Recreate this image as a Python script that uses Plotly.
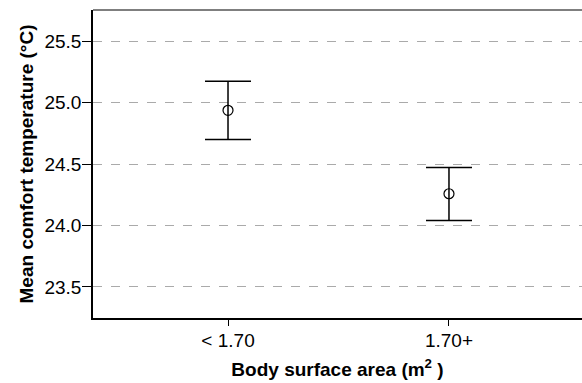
import plotly.graph_objects as go

categories = ["< 1.70", "1.70+"]
means = [24.937, 24.258]
upper = [25.174, 24.472]
lower = [24.700, 24.040]
y_ticks = [23.5, 24.0, 24.5, 25.0, 25.5]

err_plus = [u - m for u, m in zip(upper, means)]
err_minus = [m - l for m, l in zip(means, lower)]

fig = go.Figure()
fig.add_trace(go.Scatter(
    x=categories, y=means, mode="markers",
    marker=dict(symbol="circle-open", size=10, color="black", line=dict(width=1.2, color="black")),
    error_y=dict(type="data", symmetric=False, array=err_plus, arrayminus=err_minus,
                 color="black", thickness=1.5, width=23),
    showlegend=False,
))

font = "Liberation Sans, Arial, sans-serif"
fig.update_layout(
    width=582, height=383,
    margin=dict(l=93, r=0, t=10, b=65),
    paper_bgcolor="white", plot_bgcolor="white",
    font=dict(family=font, size=19, color="black"),
    xaxis=dict(
        type="category", range=[-0.611, 1.602], automargin=False,
        showline=True, linecolor="black", linewidth=1.5,
        ticks="outside", ticklen=6, tickcolor="black",
        ticklabelstandoff=-2,
        showgrid=False, zeroline=False,
        tickfont=dict(size=19),
        title=dict(text="<b>Body surface area (m<sup>2</sup> )</b>", font=dict(size=19), standoff=13),
    ),
    yaxis=dict(
        range=[23.247, 25.753], tickvals=y_ticks, ticktext=[f"{v:.1f}" for v in y_ticks],
        automargin=False,
        showline=True, linecolor="black", linewidth=1.5,
        ticks="outside", ticklen=9, tickcolor="black",
        ticklabelstandoff=-3,
        showgrid=True, gridcolor="#aaaaaa", griddash="dash", gridwidth=1,
        zeroline=False,
        tickfont=dict(size=19),
        title=dict(text="<b>Mean comfort temperature (°C)</b>", font=dict(size=19), standoff=6),
    ),
    shapes=[dict(type="line", xref="paper", yref="paper", x0=0, x1=1, y0=1, y1=1,
                 line=dict(color="#555555", width=1.5))],
)

fig.write_html("out.html", config={"displayModeBar": False},
               post_script="document.body.style.margin='0';")
